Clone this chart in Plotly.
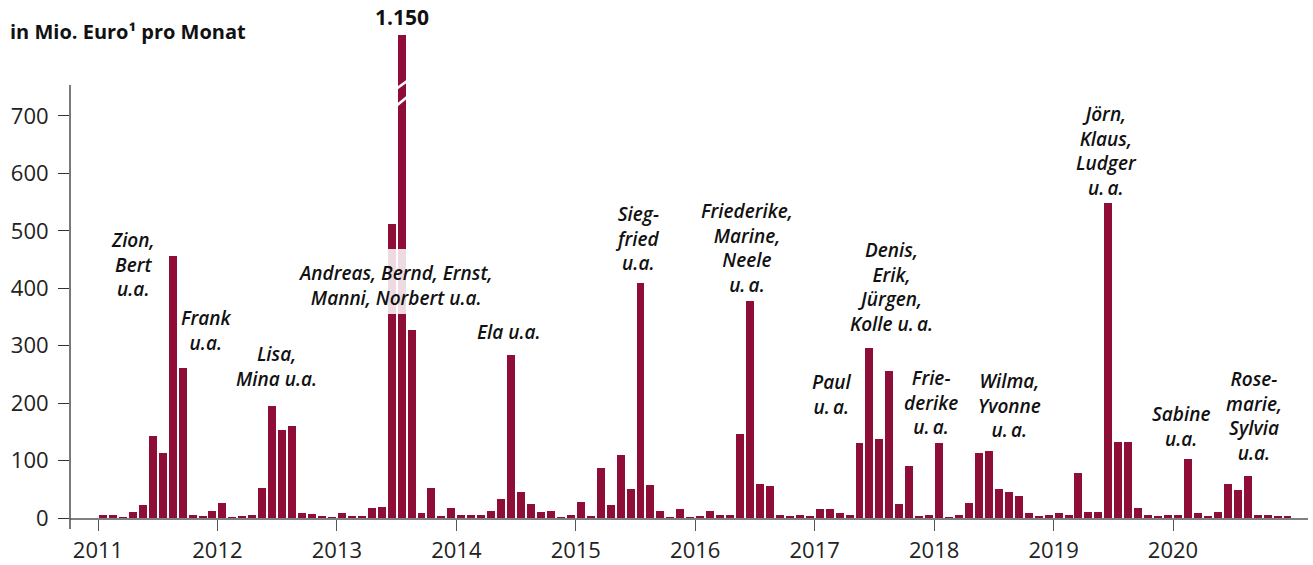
import plotly.graph_objects as go

# ---------------- data ----------------
years = ["2011", "2012", "2013", "2014", "2015", "2016", "2017", "2018", "2019", "2020"]
v2011 = [6, 6, 1, 10, 22, 142, 113, 456, 262, 5, 3, 13]
v2012 = [26, 1, 3, 5, 52, 195, 154, 161, 9, 7, 3, 1]
v2013 = [9, 3, 3, 17, 20, 512, 1150, 327, 9, 52, 3, 17]
v2014 = [5, 6, 5, 12, 33, 284, 45, 24, 10, 13, 1, 5]
v2015 = [27, 3, 87, 22, 109, 50, 410, 57, 12, 1, 15, 1]
v2016 = [3, 12, 5, 6, 147, 378, 59, 55, 5, 3, 5, 3]
v2017 = [15, 15, 8, 5, 130, 296, 137, 256, 24, 90, 3, 5]
v2018 = [130, 1, 6, 26, 113, 116, 50, 46, 38, 8, 3, 6]
v2019 = [8, 6, 78, 10, 10, 549, 132, 132, 17, 6, 3, 6]
v2020 = [6, 102, 8, 3, 10, 59, 48, 73, 5, 5, 3, 3]
values = v2011 + v2012 + v2013 + v2014 + v2015 + v2016 + v2017 + v2018 + v2019 + v2020
months = [i + 0.5 for i in range(len(values))]
ytick_vals = [0, 100, 200, 300, 400, 500, 600, 700]
peak_label = "1.150"
title_text = "in Mio. Euro¹ pro Monat"

TS = "u.\u2009a."
labels = [
    (["Zion,", "Bert", "u.a."], 133, 242),
    (["Frank", "u.a."], 206, 319),
    (["Lisa,", "Mina u.a."], 276, 355.5),
    (["Andreas, Bernd, Ernst,", "Manni, Norbert u.a."], 395, 274.5),
    (["Ela u.a."], 509, 332),
    (["Sieg-", "fried", "u.a."], 637, 216),
    (["Friederike,", "Marine,", "Neele", TS], 747, 214.5),
    (["Denis,", "Erik,", "Jürgen,", "Kolle " + TS], 891, 254),
    (["Paul", TS], 831, 383),
    (["Frie-", "derike", TS], 931, 380.5),
    (["Wilma,", "Yvonne", TS], 1009, 383),
    (["Jörn,", "Klaus,", "Ludger", TS], 1106, 118),
    (["Sabine", "u.a."], 1181, 415),
    (["Rose-", "marie,", "Sylvia", "u.a."], 1254, 383),
]

# ---------------- layout geometry (reference pixel coords) ----------------
W, H = 1313, 565
PLOT_LEFT, PLOT_RIGHT, PLOT_TOP, PLOT_BOTTOM = 70, 1308, 35, 518
L = PLOT_LEFT
R = W - PLOT_RIGHT
T = PLOT_TOP
B = H - PLOT_BOTTOM
PW, PH = W - L - R, H - T - B
PX_PER_MONTH = 9.954
X0_PX = 98  # pixel of Jan 2011 boundary
PX_PER_UNIT = 0.5743
YMAX = PH / PX_PER_UNIT
xmin = (PLOT_LEFT - X0_PX) / PX_PER_MONTH
xmax = xmin + PW / PX_PER_MONTH

def px2x(px):
    return (px - X0_PX) / PX_PER_MONTH

def py2paper(py):
    return (PLOT_BOTTOM - py) / PH

def px2paper(px):
    return (px - PLOT_LEFT) / PW

def py2y(py):
    return (PLOT_BOTTOM - py) / PX_PER_UNIT

BAR = "#8F0E37"
FONT = "Open Sans"

fig = go.Figure()
fig.add_trace(go.Bar(x=months, y=values, width=0.8, marker=dict(color=BAR, line_width=0),
                     hoverinfo="x+y"))

annotations = []
LINE_H = 22.3
for lines, cx, cy in labels:
    mid = cy + (len(lines) - 1) * LINE_H / 2
    annotations.append(dict(
        x=px2x(cx), xref="x", y=py2paper(mid), yref="paper",
        text="<br>".join(lines), showarrow=False, xanchor="center", yanchor="middle",
        align="center",
        font=dict(family=FONT, size=19, color="#111111", weight=600, style="italic")))

# title
annotations.append(dict(x=px2paper(8), xref="paper", y=py2paper(31), yref="paper",
                        text=title_text, showarrow=False, xanchor="left", yanchor="middle",
                        font=dict(family=FONT, size=20, color="#111111", weight=700)))
# peak label
annotations.append(dict(x=months[30], xref="x", y=py2paper(17), yref="paper",
                        text=peak_label, showarrow=False, xanchor="center", yanchor="middle",
                        font=dict(family=FONT, size=21, color="#111111", weight=700)))

shapes = []
# translucent highlight behind the long label on the 2013 bars
shapes.append(dict(type="rect", xref="x", yref="y", x0=29.0, x1=31.0,
                   y0=py2y(314), y1=py2y(249), fillcolor="rgba(255,255,255,0.85)",
                   line_width=0, layer="above"))
# axis break marks on the clipped bar
for yl, yr in [(89, 81), (106, 97)]:
    shapes.append(dict(type="line", xref="x", yref="y", x0=29.95, x1=31.05,
                       y0=py2y(yl), y1=py2y(yr),
                       line=dict(color="white", width=2.6), layer="above"))
# y axis line (extends slightly below baseline)
shapes.append(dict(type="line", xref="paper", yref="paper", x0=0, x1=0,
                   y0=py2paper(529), y1=py2paper(85), line=dict(color="#333333", width=1.3)))

fig.update_layout(
    width=W, height=H, margin=dict(l=L, r=R, t=T, b=B, autoexpand=False),
    plot_bgcolor="white", paper_bgcolor="white", showlegend=False,
    bargap=0, annotations=annotations, shapes=shapes,
    xaxis=dict(range=[xmin, xmax], tickmode="array", tickvals=[12 * i for i in range(len(years))],
               ticktext=years, ticks="outside", ticklen=11, tickwidth=1.3, tickcolor="#555555",
               showline=True, linecolor="#808080", linewidth=1.5, showgrid=False, zeroline=False,
               tickfont=dict(family=FONT, size=22, color="#222222"), ticklabelstandoff=1),
    yaxis=dict(range=[0, YMAX], tickmode="array", tickvals=ytick_vals, ticks="outside",
               ticklen=11, tickwidth=1.3, tickcolor="#333333", showline=False, showgrid=False,
               zeroline=False, tickfont=dict(family=FONT, size=22, color="#222222"),
               ticklabelstandoff=5),
)

fig.write_html("out.html", config={"displayModeBar": False},
               post_script="document.body.style.margin='0';document.body.style.overflow='hidden';")
